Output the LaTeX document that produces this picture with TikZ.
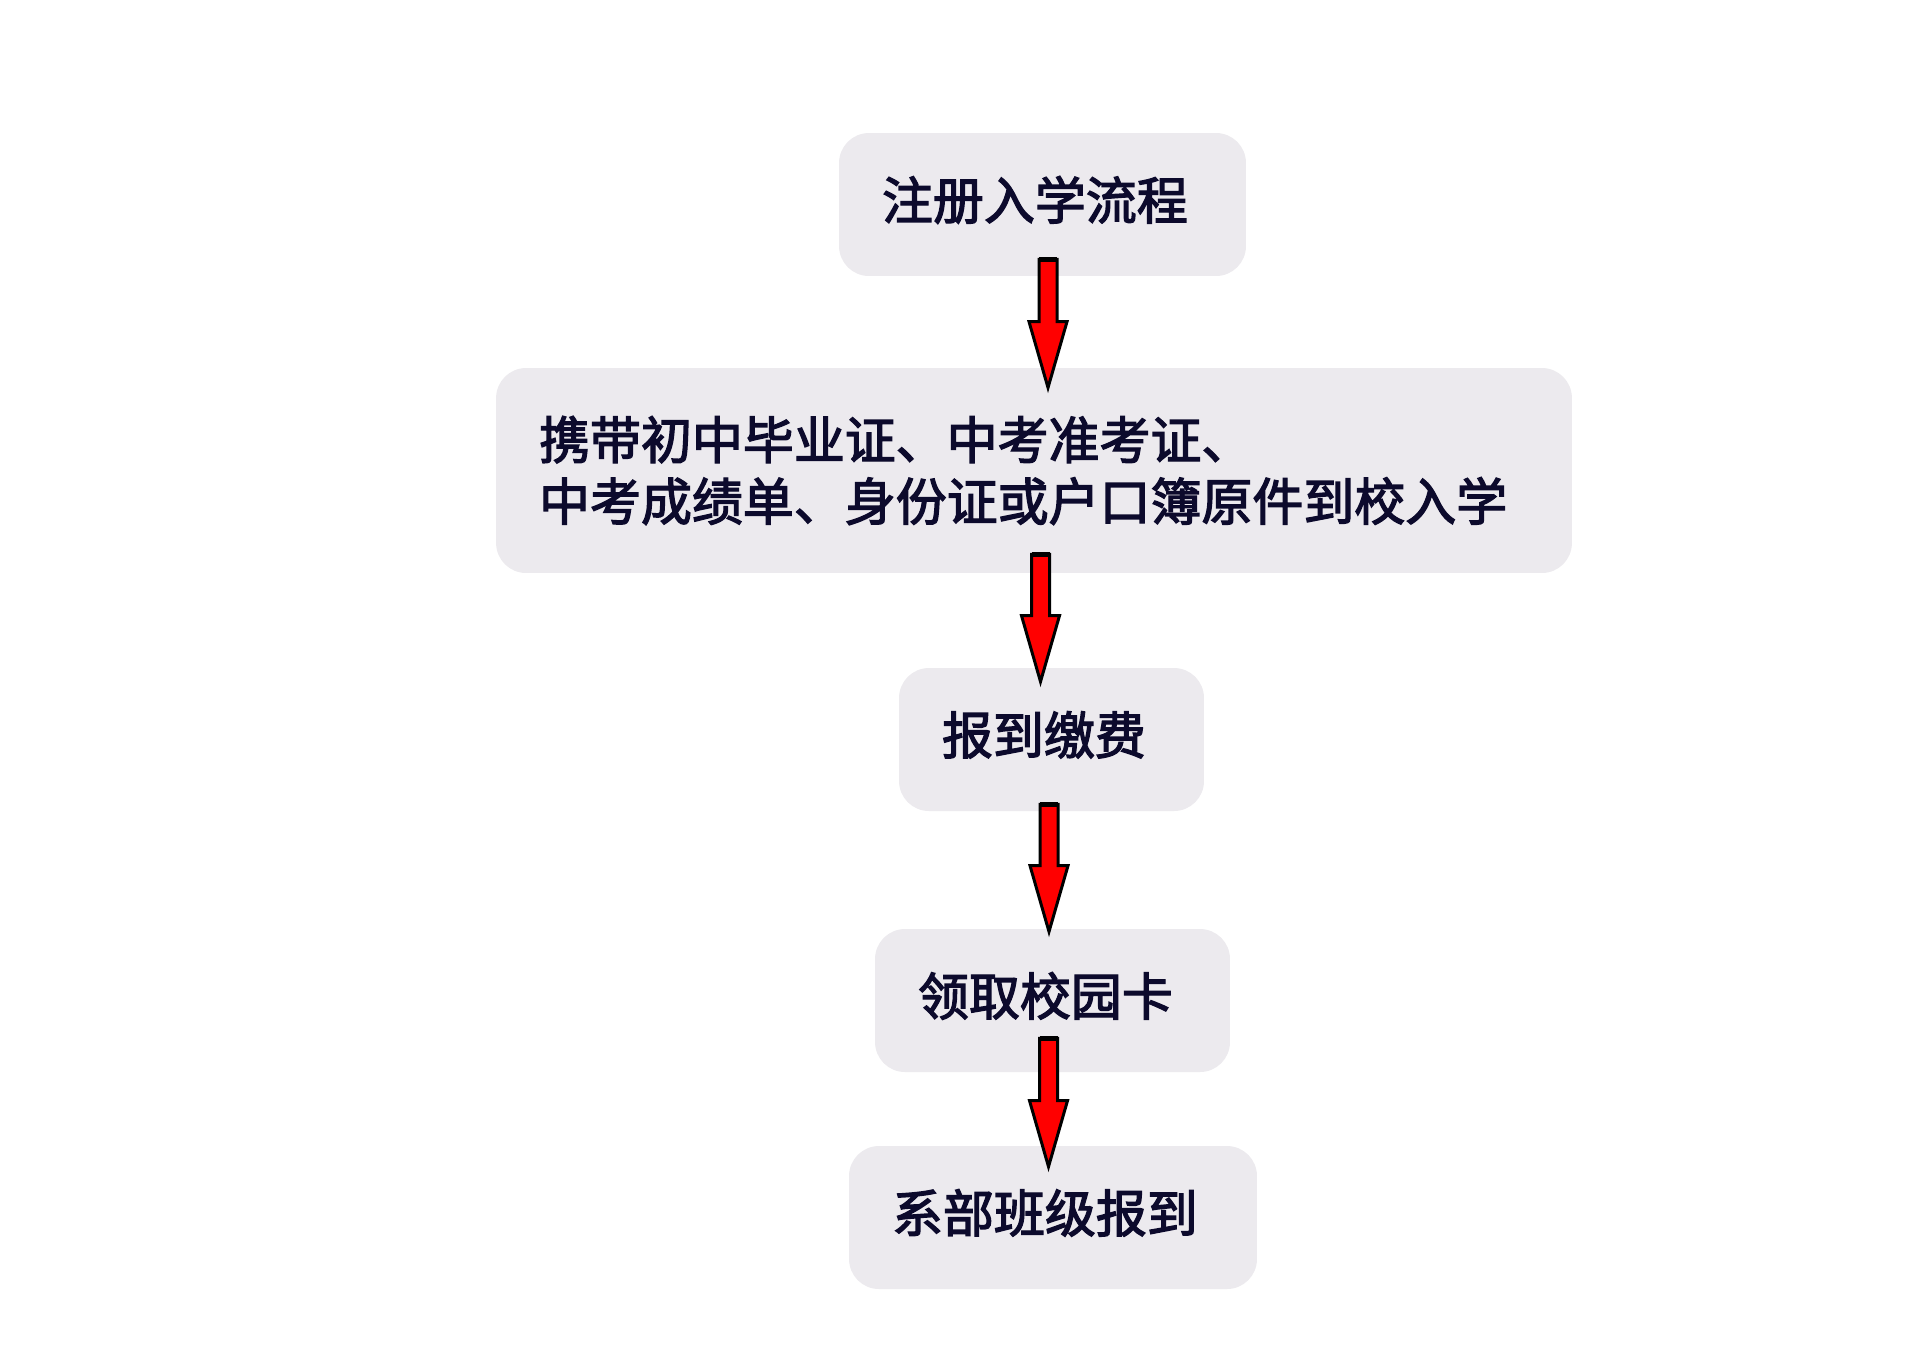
\documentclass[tikz,border=0pt]{standalone}
\usepackage{fontspec}
\newfontfamily\cjk[UprightFeatures={FakeBold=2.6}]{Noto Sans CJK SC}
\usetikzlibrary{positioning, calc}
\definecolor{boxgray}{HTML}{ECEAEE}
\definecolor{textnavy}{HTML}{0C0A2C}
% block arrow: #1 = start of shaft, #2 = tip (same x)
\newcommand{\flowarrow}[2]{%
  \draw[redarrow] ($(#1)+(-9,0)$) -- ($(#1)+(9,0)$) -- ($(#2)+(9,-66)$)
    -- ($(#2)+(19,-66)$) -- (#2) -- ($(#2)+(-19,-66)$) -- ($(#2)+(-9,-66)$) -- cycle;
  \draw[line width=2.6pt] ($(#1)+(-9,0)$) -- ($(#1)+(9,0)$);}

\begin{document}
\begin{tikzpicture}[x=0.02cm, y=-0.02cm,
    stagebox/.style={fill=boxgray, rounded corners=0.6cm, text=textnavy,
      font=\cjk\fontsize{29}{35}\selectfont,
      inner xsep=0.86cm, inner ysep=0pt, align=left, minimum height=2.86cm},
    oneline/.style={stagebox, text depth=0.27cm},
    redarrow/.style={fill=red, draw=black, line width=1.7pt}]
  \fill[white] (0,0) rectangle (1929,1347);
  \useasboundingbox (0,0) rectangle (1929,1347);

  % steps
  \node[oneline, text width=6.42cm] (reg) at (1042.5,204.5) {注册入学流程};
  \node[stagebox, text width=19.8cm, minimum height=4.1cm] (docs) at (1034,470.5)
    {携带初中毕业证、中考准考证、\\中考成绩单、身份证或户口簿原件到校入学};
  \node[oneline, text width=4.38cm] (fee) at (1051.5,739.5) {报到缴费};
  \node[oneline, text width=5.38cm] (card) at (1052.5,1000.5) {领取校园卡};
  \node[oneline, text width=6.44cm] (dept) at (1053,1217.5) {系部班级报到};

  % arrows between steps
  \coordinate (a1) at ($(reg.south)+(5.5,-17)$);
  \coordinate (b1) at ($(docs.north)+(14,20)$);
  \coordinate (a2) at ($(docs.south)+(6.5,-19)$);
  \coordinate (b2) at ($(fee.north)+(-11,14)$);
  \coordinate (a3) at ($(fee.south)+(-2.5,-7)$);
  \coordinate (b3) at ($(card.north)+(-3.5,3)$);
  \coordinate (a4) at ($(card.south)+(-4,-34)$);
  \coordinate (b4) at ($(dept.north)+(-4.5,21)$);
  \flowarrow{a1}{b1}
  \flowarrow{a2}{b2}
  \flowarrow{a3}{b3}
  \flowarrow{a4}{b4}
\end{tikzpicture}
\end{document}
